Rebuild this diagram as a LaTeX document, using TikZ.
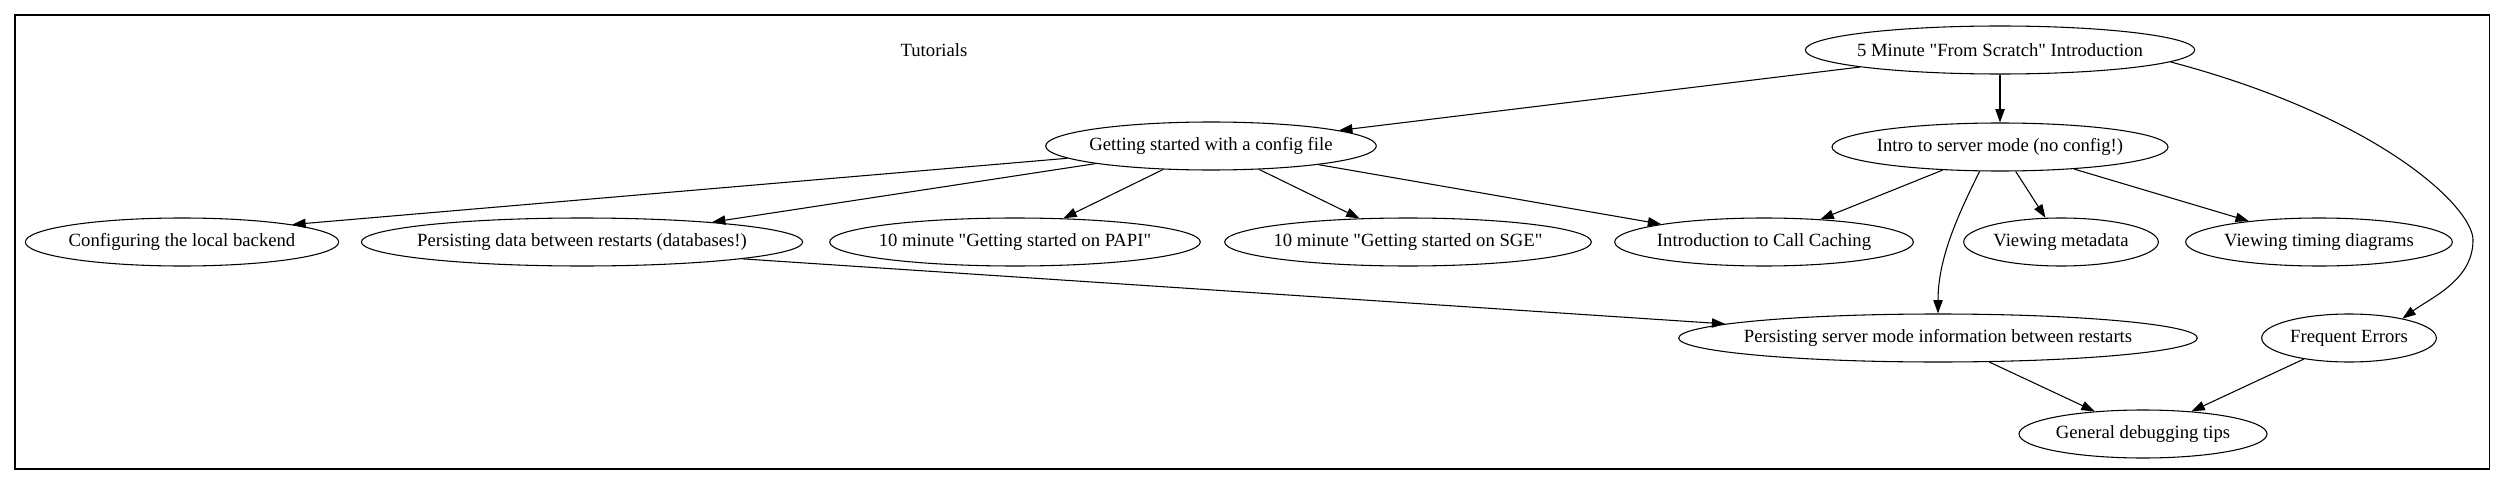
\documentclass[tikz,border=0pt]{standalone}
\usepackage{fontspec}
\setmainfont{Liberation Serif}
\usetikzlibrary{shapes, arrows.meta}

\begin{document}
\begin{tikzpicture}[x=0.75pt, y=-0.75pt]
  \tikzstyle{topic}=[draw, ellipse, line width=0.8pt, minimum height=36pt, inner xsep=-20pt, font=\fontsize{14pt}{16pt}\selectfont]
  \tikzstyle{dep}=[draw, line width=0.8pt, -{Triangle[length=10pt, width=7pt]}]
  \useasboundingbox (0,0) rectangle (2505,485);

  % cluster frame
  \draw[line width=0.8pt] (15,15) rectangle (2489,469);
  \node (title) at (934,50) [font=\fontsize{14pt}{16pt}\selectfont] {Tutorials};

  % first two rows
  \node (scratch) at (2000,50) [topic, minimum width=292pt] {5 Minute \textquotedbl From Scratch\textquotedbl{} Introduction};
  \node (cfgfile) at (1211,146) [topic, minimum width=248pt] {Getting started with a config file};
  \node (server) at (2000,147) [topic, minimum width=252pt] {Intro to server mode (no config!)};

  % third row
  \node (local) at (182,242) [topic, minimum width=235pt] {Configuring the local backend};
  \node (persistdb) at (582,242) [topic, minimum width=331pt] {Persisting data between restarts (databases!)};
  \node (papi) at (1015,242) [topic, minimum width=278pt] {10 minute \textquotedbl Getting started on PAPI\textquotedbl};
  \node (sge) at (1408,242) [topic, minimum width=275pt] {10 minute \textquotedbl Getting started on SGE\textquotedbl};
  \node (callcache) at (1764,242) [topic, minimum width=224pt] {Introduction to Call Caching};
  \node (metadata) at (2061,242) [topic, minimum width=146pt] {Viewing metadata};
  \node (timing) at (2319,242) [topic, minimum width=200pt] {Viewing timing diagrams};

  % bottom rows
  \node (persistsrv) at (1938,338) [topic, minimum width=389pt] {Persisting server mode information between restarts};
  \node (errors) at (2349,338) [topic, minimum width=131pt] {Frequent Errors};
  \node (debug) at (2143,434) [topic, minimum width=186pt] {General debugging tips};

  % dependencies
  \draw[dep] (scratch) -- (cfgfile);
  \draw[dep] (scratch) -- (server);
  \draw[dep] (scratch.-4) .. controls (2382,118) and (2473,208) .. (2473,240)
    .. controls (2473,280) and (2432,297) .. (errors.20);
  \draw[dep] (cfgfile) -- (local.9);
  \draw[dep] (cfgfile) -- (persistdb);
  \draw[dep] (cfgfile) -- (papi);
  \draw[dep] (cfgfile) -- (sge);
  \draw[dep] (cfgfile) -- (callcache);
  \draw[dep] (server) -- (callcache);
  \draw[dep] (server) -- (metadata);
  \draw[dep] (server) -- (timing);
  \draw[dep] (server.230) .. controls (1958,215) and (1938,258) .. (persistsrv.north);
  \draw[dep] (persistdb.-6) -- (persistsrv);
  \draw[dep] (persistsrv) -- (debug);
  \draw[dep] (errors) -- (debug);
\end{tikzpicture}
\end{document}
